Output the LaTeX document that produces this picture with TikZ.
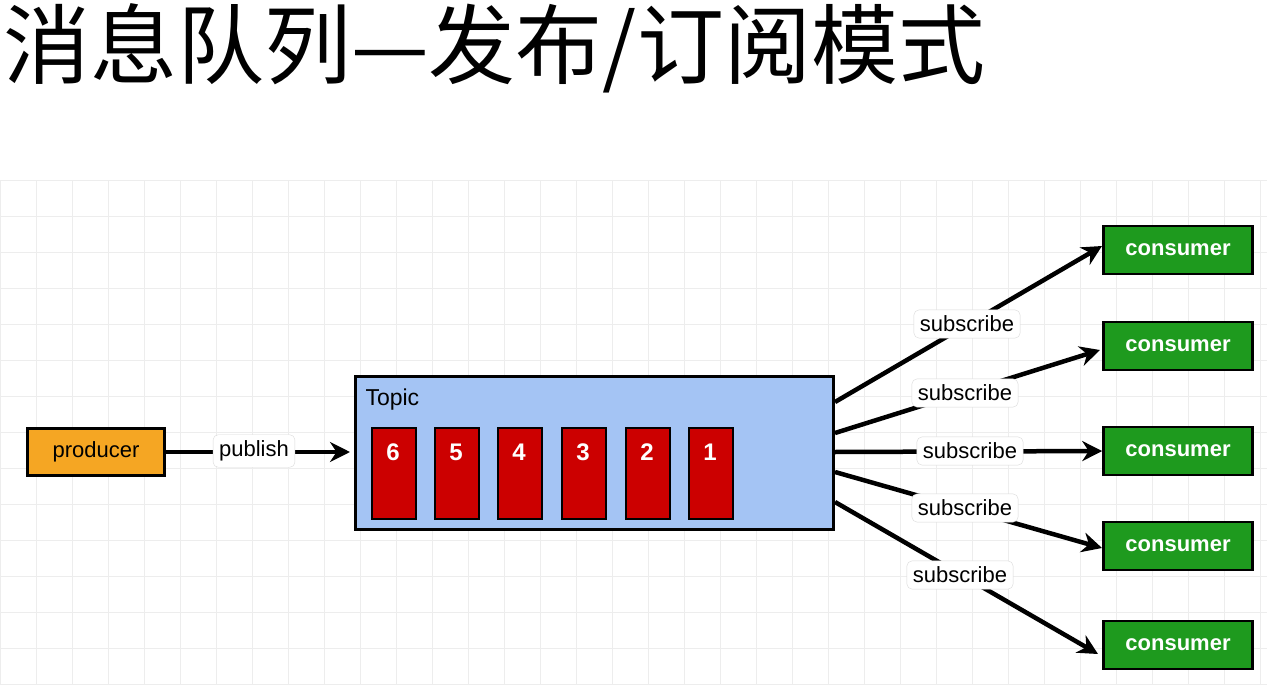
\documentclass[tikz,border=0pt]{standalone}
\usepackage{fontspec}
\setmainfont{Liberation Sans}
\newfontfamily\cjk{Noto Sans CJK SC}
\usetikzlibrary{arrows.meta}
\definecolor{topicblue}{HTML}{A4C4F4}
\definecolor{msgred}{HTML}{CC0000}
\definecolor{consgreen}{HTML}{1E9A1E}
\definecolor{prodorange}{HTML}{F5A623}
\begin{document}
\begin{tikzpicture}[x=1pt,y=-1pt,
  box/.style={draw=black,line width=2.5pt,inner sep=0pt,anchor=north west},
  lbl/.style={draw=black!15,fill=white,rounded corners=5pt,font=\fontsize{22}{26}\selectfont,inner sep=6pt},
  arr/.style={line width=4.5pt,-{Stealth[length=20pt,width=20pt]}},
  cons/.style={box,fill=consgreen,minimum width=149pt,minimum height=48pt,text=white,font=\bfseries\fontsize{22}{26}\selectfont,anchor=center},
  msg/.style={box,line width=2pt,fill=msgred,minimum width=44pt,minimum height=91pt}]
\useasboundingbox (0,0) rectangle (1267,685);
\fill[white] (0,0) rectangle (1267,685);
\foreach \x in {0,36,...,1267} \draw[black!7,line width=1pt] (\x,180) -- (\x,685);
\foreach \y in {180,216,...,685} \draw[black!7,line width=1pt] (0,\y) -- (1267,\y);
\node[anchor=west,font=\cjk\fontsize{87}{100}\selectfont,inner sep=0pt] (title) at (3,48) {消息队列—发布/订阅模式};
\node[box,fill=prodorange,minimum width=137pt,minimum height=47pt,anchor=center,font=\fontsize{22}{26}\selectfont] (prod) at (96,452) {producer};
\node[box,fill=topicblue,minimum width=478pt,minimum height=153pt] (topic) at (354,375) {};
\node[anchor=west,font=\fontsize{23}{26}\selectfont] (tl) at (362,400) {Topic};
\foreach \i/\x in {a/371,b/434,c/497,d/561,e/625,f/688}
  \node[msg] (m\i) at (\x,427) {};
\foreach \i/\x/\n in {a/371/6,b/434/5,c/497/4,d/561/3,e/625/2,f/688/1}
  \node[text=white,font=\bfseries\fontsize{24}{28}\selectfont] (n\i) at (\x+22,452) {\n};
\coordinate (t1) at (835,402);
\coordinate (t2) at (835,433);
\coordinate (t3) at (835,452);
\coordinate (t4) at (835,472);
\coordinate (t5) at (835,502);
\node[cons] (c1) at (1178,250) {consumer};
\node[cons] (c2) at (1178,346) {consumer};
\node[cons] (c3) at (1178,451) {consumer};
\node[cons] (c4) at (1178,546) {consumer};
\node[cons] (c5) at (1178,645) {consumer};
\coordinate (pin) at (350,452);
\draw[arr] (prod.east) -- (pin);
\draw[arr] (t1) -- (1102,246);
\draw[arr] (t2) -- (1100,350);
\draw[arr] (t3) -- (c3.west);
\draw[arr] (t4) -- (1102,548);
\draw[arr] (t5) -- (1098,654);
\node[lbl] (pub) at (254,451) {publish};
\node[lbl] (s1) at (967,324) {subscribe};
\node[lbl] (s2) at (965,393) {subscribe};
\node[lbl] (s3) at (970,451) {subscribe};
\node[lbl] (s4) at (965,508) {subscribe};
\node[lbl] (s5) at (960,575) {subscribe};
\end{tikzpicture}
\end{document}
